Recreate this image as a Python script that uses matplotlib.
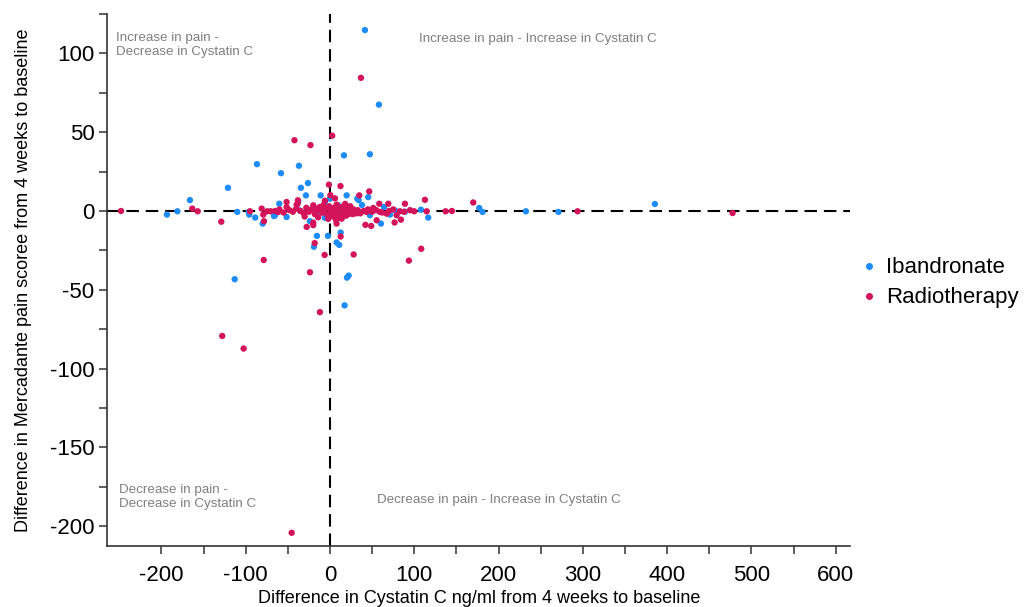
import matplotlib
matplotlib.use("Agg")
import matplotlib.pyplot as plt
from matplotlib.lines import Line2D

plt.rcParams['font.family'] = ['Liberation Sans', 'DejaVu Sans']
plt.rcParams['axes.unicode_minus'] = False

# Ibandronate: difference in Cystatin C (x) and pain score (y)
iban_x = [41.5, 58.1, 47.4, 16.6, -86.6, -36.8, -58.1, -26.1, -34.4, -121.0,
          -166.1, -11.0, 19.8, 45.4, 34.0, 38.0, -60.1, -5.9, -181.0, -193.4,
          -110.0, -96.4, -95.7, -88.6, -79.8, -66.4, -51.4, -15.8, -5.9, 60.5,
          47.4, 64.1, 71.2, 107.9, 116.6, 12.7, -2.4, -15.4, -19.0, 7.9,
          11.0, -113.0, 22.2, 20.2, 17.4, 177.1, 181.1, 232.5, 271.1, 385.5,
          -28.5, 0.0, 32.4, 9.8, -37.6, -65.2, -23.7, 0.0, -35.6, 11.9,
          26.1, 77.1, 89.0]
iban_y = [114.8, 67.5, 36.0, 35.3, 29.7, 28.7, 24.0, 17.7, 14.7, 14.7,
          6.9, 9.9, 9.9, 8.8, 6.9, 3.8, 4.6, 5.7, -0.2, -2.3,
          -0.6, -0.6, -2.3, -4.2, -8.0, -3.2, -3.8, -0.6, -4.4, -8.0,
          -2.7, 2.5, -2.3, 0.8, -4.2, -13.7, -15.8, -15.8, -22.7, -20.0,
          -21.5, -43.3, -41.0, -42.3, -59.9, 1.9, -0.6, -0.2, -0.6, 4.4,
          9.9, 7.8, 7.8, 3.6, 6.1, -2.7, -6.5, -2.7, 0.3, 0.5,
          -0.8, 0.4, -0.5]

# Radiotherapy
radio_x = [36.8, 2.7, -42.1, -23.1, -1.2, 12.5, 34.8, 46.6, -163.3, -156.9,
           -128.9, -94.9, -81.0, -79.1, -78.3, -74.4, -70.3, -51.4, -38.3, -38.0,
           -27.6, -19.8, 7.1, 42.1, 48.9, 76.7, 84.2, 69.2, 89.0, 112.7,
           114.7, 100.0, 137.2, 144.7, 170.0, 293.8, 477.7, -247.9, 51.4, 58.5,
           55.4, 67.3, 79.1, 83.0, 43.5, 59.3, -51.4, -39.5, -19.8, -7.9,
           7.9, 23.7, -19.8, 7.9, 13.9, -61.3, -78.6, -23.7, -11.9, -6.3,
           28.1, 93.7, 108.3, -127.8, -102.4, -18.1, 12.7, -45.4,
           -65.0, -60.0, -55.0, -48.0, -44.0, -40.0, -35.0, -31.0, -28.0, -25.0,
           -22.0, -18.0, -15.0, -12.0, -10.0, -8.0, -5.0, -3.0, -1.0, 1.0,
           3.0, 5.0, 8.0, 10.0, 12.0, 15.0, 17.0, 20.0, 22.0, 25.0,
           28.0, 30.0, 33.0, 36.0, 40.0, 45.0, 50.0, 55.0, 62.0, 70.0,
           75.0, 88.0, 95.0, -30.0, -14.0, -2.0, 4.0, 14.0, 19.0, 27.0,
           -6.0, 6.0, 18.0, -17.0, 2.0, 9.0, 24.0, 31.0, -9.0, 0.5]
radio_y = [84.5, 47.8, 44.9, 41.8, 16.7, 15.8, 9.9, 12.4, 1.5, -0.2,
           -6.8, -0.2, 1.5, -2.3, -6.5, -0.2, -0.2, 5.7, 4.6, 6.8,
           -10.1, -7.4, -5.7, -8.8, -9.5, -7.3, -5.5, 4.6, 4.6, 7.1,
           -0.2, -0.2, -0.2, 0.0, 5.4, -0.2, -1.3, 0.0, 1.9, 4.6,
           -5.9, -1.7, -2.7, -0.2, -0.6, -0.6, 2.5, 4.0, 3.6, 3.6,
           4.0, 1.5, -9.0, -8.0, -4.9, -0.6, -31.1, -38.9, -64.2, -27.9,
           -27.6, -31.5, -24.0, -79.3, -87.3, -20.4, -16.2, -204.2,
           0.0, 1.0, -1.0, 0.5, -0.5, 1.5, 0.0, -1.5, 2.0, -0.5,
           1.0, -2.0, 0.5, 2.5, -1.0, 0.0, 1.5, -2.5, 3.0, 0.0,
           -1.0, 2.0, -1.5, 0.5, -3.0, 1.0, -0.5, 2.0, -2.0, 0.0,
           1.0, -1.0, 0.5, -1.5, 0.0, 1.0, -0.5, 0.5, -1.0, 0.0,
           1.0, -0.5, 0.5, -3.5, -4.0, -5.0, -3.5, 2.5, -3.0, -2.0,
           6.5, 8.0, 4.5, 1.5, -2.0, -4.0, 3.0, -1.5, -1.0, 10.0]

x_ticks = [-200, -100, 0, 100, 200, 300, 400, 500, 600]
y_ticks = [-200, -150, -100, -50, 0, 50, 100]

blue = '#1E8CF8'
red = '#D4145A'

fig = plt.figure(figsize=(10.24, 6.07), dpi=100)
ax = fig.add_axes([107/1024, 1 - 546/607, (850 - 107)/1024, (546 - 14)/607])

dash = (0, (6.0, 3.3))
ax.axhline(0, color='black', lw=1.5, ls=dash, zorder=1)
ax.axvline(0, color='black', lw=1.5, ls=dash, zorder=1)

ax.scatter(iban_x, iban_y, s=21, color=blue, edgecolors='none', zorder=3)
ax.scatter(radio_x, radio_y, s=21, color=red, edgecolors='none', zorder=4)

ax.set_xlim(-264.5, 617)
ax.set_ylim(-212.6, 123)

ax.set_xticks(x_ticks)
ax.set_xticks([v + 50 for v in x_ticks[:-1]], minor=True)
ax.set_yticks(y_ticks)
ax.set_yticks([v + 25 for v in y_ticks], minor=True)
ax.tick_params(axis='both', which='both', direction='out', length=6, width=1.1,
               color='#333333', labelsize=16, labelcolor='black')
ax.tick_params(axis='x', which='major', pad=8)
ax.tick_params(axis='y', which='major', pad=3)

for s in ['top', 'right']:
    ax.spines[s].set_visible(False)
for s in ['left', 'bottom']:
    ax.spines[s].set_linewidth(1.2)
    ax.spines[s].set_color('#333333')

ax.set_xlabel('Difference in Cystatin C ng/ml from 4 weeks to baseline', fontsize=13)
ax.set_ylabel('Difference in Mercadante pain scoree from 4 weeks to baseline', fontsize=13)
ax.xaxis.set_label_coords(0.5007, -0.0835)
ax.yaxis.set_label_coords(-0.101, 0.5)

gray = '#7F7F7F'
fs_note = 9.6
ax.text(-254, 105.5, 'Increase in pain -\nDecrease in Cystatin C', color=gray, fontsize=fs_note,
        ha='left', va='center', linespacing=1.25)
ax.text(105.6, 109, 'Increase in pain - Increase in Cystatin C', color=gray, fontsize=fs_note,
        ha='left', va='center')
ax.text(-250, -181.4, 'Decrease in pain -\nDecrease in Cystatin C', color=gray, fontsize=fs_note,
        ha='left', va='center', linespacing=1.25)
ax.text(55.8, -183.6, 'Decrease in pain - Increase in Cystatin C', color=gray, fontsize=fs_note,
        ha='left', va='center')

handles = [Line2D([], [], marker='o', ls='none', color=blue, markersize=4, label='Ibandronate'),
           Line2D([], [], marker='o', ls='none', color=red, markersize=4, label='Radiotherapy')]
fig.legend(handles=handles, loc='center left', bbox_to_anchor=(0.820, 0.534), frameon=False,
           fontsize=16, handletextpad=0.4, labelspacing=0.4, handlelength=0.8)

fig.savefig('out.png', dpi=100)
